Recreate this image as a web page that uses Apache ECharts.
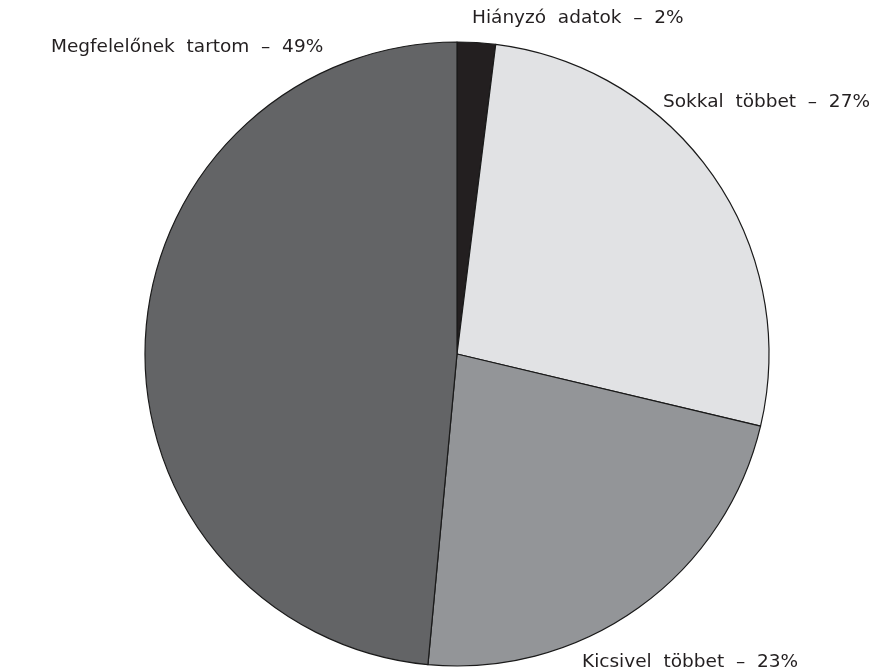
<!DOCTYPE html>
<html><head><meta charset="utf-8">
<script src="https://cdn.jsdelivr.net/npm/echarts@6/dist/echarts.min.js"></script>
<style>html,body{margin:0;padding:0;background:#fff}#c{width:871px;height:670px}</style>
</head><body><div id="c"></div>
<script>
const categories = ['Hiányzó adatok', 'Sokkal többet', 'Kicsivel többet', 'Megfelelőnek tartom'];
const values = [2, 27, 23, 49];
const colors = ['#231f20', '#e1e2e4', '#939598', '#636466'];
// label anchor positions (left x, middle y)
const labelPos = [[472, 18], [663, 102], [582, 662], [51, 47]];

const chart = echarts.init(document.getElementById('c'), null, {renderer: 'canvas'});
chart.setOption({
  animation: false,
  series: [{
    type: 'pie',
    center: [457, 354],
    radius: [0, 312],
    startAngle: 90,
    clockwise: true,
    silent: true,
    data: categories.map((n, i) => ({name: n, value: values[i], itemStyle: {color: colors[i]}})),
    itemStyle: {borderColor: '#1a1a1a', borderWidth: 1.2},
    label: {
      show: true,
      formatter: p => p.name.replace(' ', '  ') + '  –  ' + p.value + '%',
      color: '#231f20',
      fontFamily: 'DejaVu Sans',
      fontSize: 18.5,
      overflow: 'none',
      width: 400
    },
    labelLine: {show: false},
    labelLayout: p => ({x: labelPos[p.dataIndex][0], y: labelPos[p.dataIndex][1], align: 'left', verticalAlign: 'middle', width: 400})
  }]
});
</script></body></html>
